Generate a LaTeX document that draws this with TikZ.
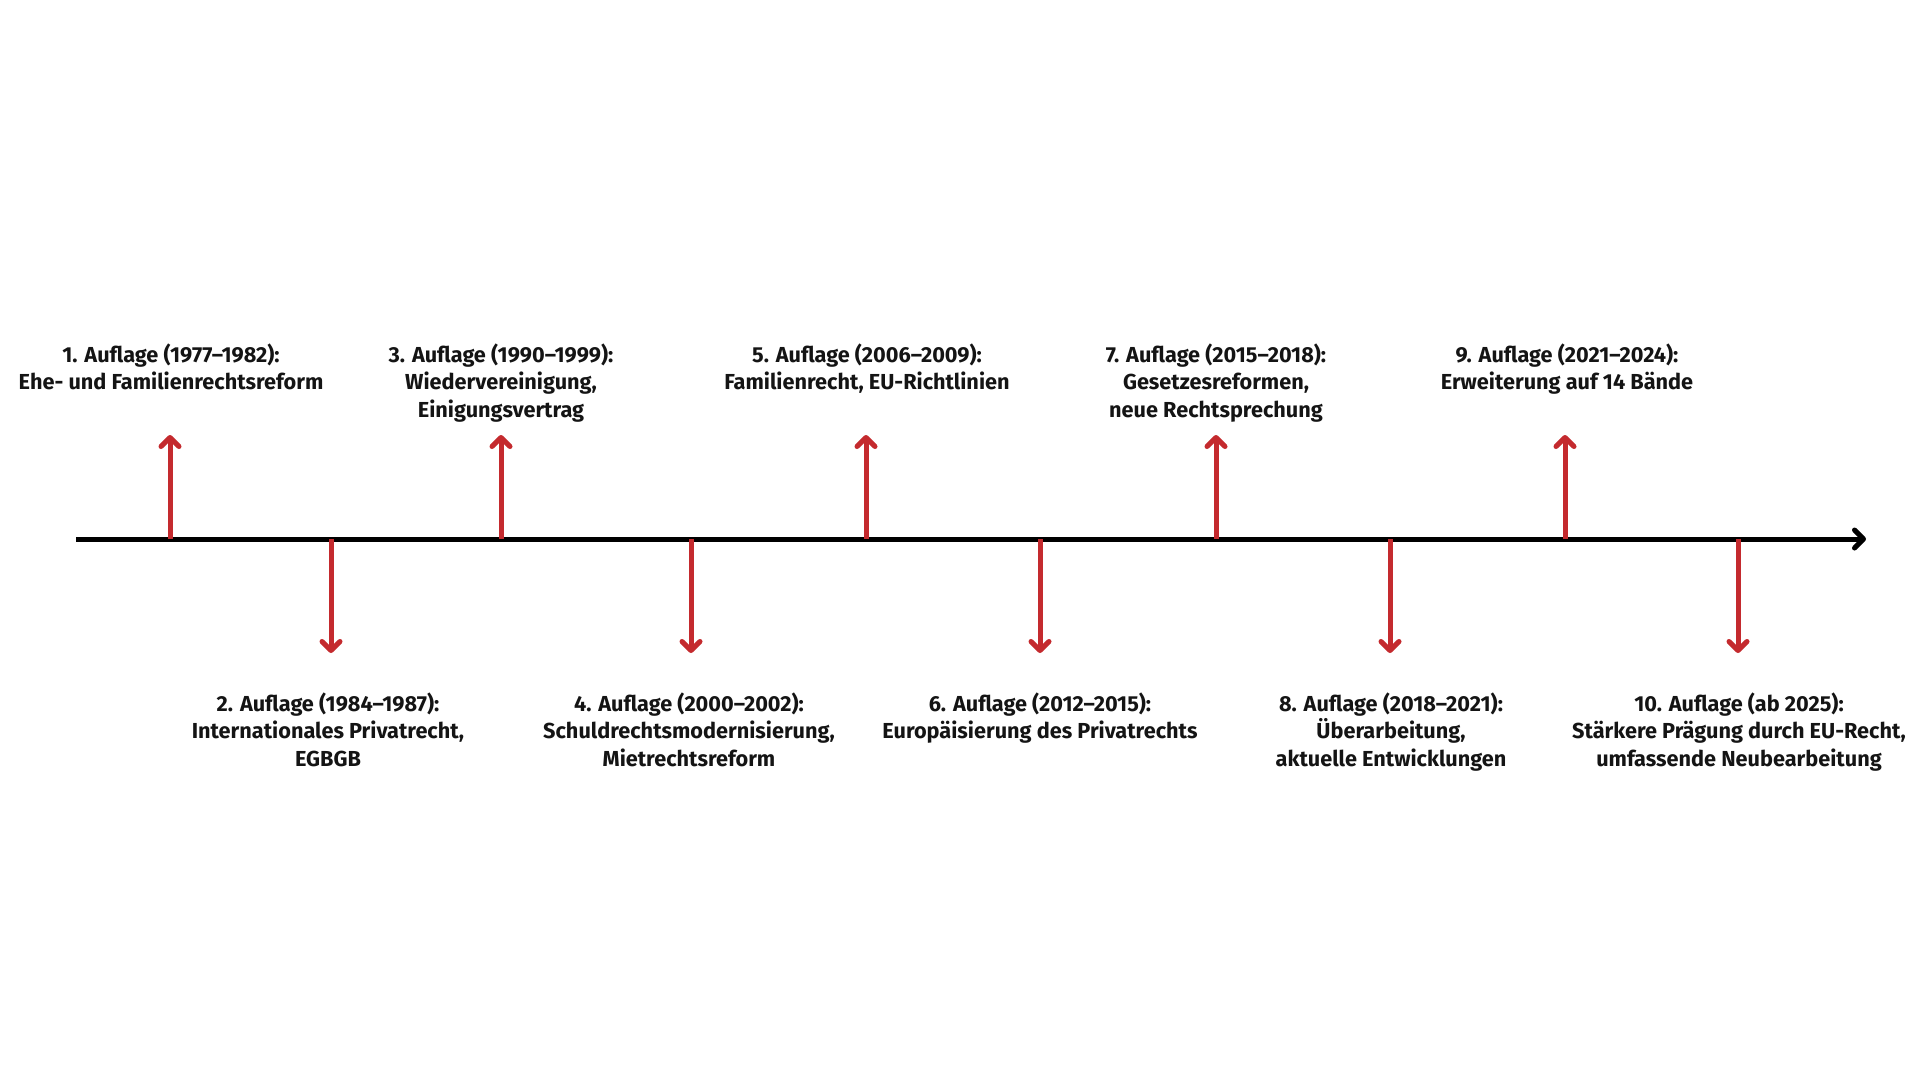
\documentclass[tikz,border=0pt]{standalone}
\usepackage{fontspec}
\setmainfont{Fira Sans}
\usetikzlibrary{arrows.meta}
\definecolor{tlred}{RGB}{196,42,46}
\definecolor{tltext}{RGB}{20,20,20}
\tikzset{
  axisline/.style={line width=5pt, draw=black, -{Straight Barb[length=9pt,width=18pt,round]}},
  evarrow/.style={line width=5pt, draw=tlred, -{Straight Barb[length=9pt,width=18pt,round]}},
  evlabel/.style={font=\fontsize{21.7}{27.6}\selectfont\bfseries, text=tltext, align=center, inner sep=0pt, anchor=north}
}
\begin{document}
\begin{tikzpicture}[x=1pt,y=-1pt]
\useasboundingbox[fill=white] (0,0) rectangle (1920,1080);
\coordinate (s) at (76,539);
\coordinate (e) at (1866,539);
\draw[axisline] (s) -- (e);
% axis points and tips
\foreach \i/\x/\ty in {1/170/435,2/331/653,3/501/435,4/691/653,5/866/435,6/1040/653,7/1216/435,8/1390/653,9/1565/435,10/1738/653}{
  \coordinate (a\i) at (\x,539);
  \coordinate (t\i) at (\x,\ty);
  \draw[evarrow] (a\i) -- (t\i);
}
\node[evlabel] (l1) at (171,343.5) {1. Auflage (1977–1982):\\Ehe- und Familienrechtsreform};
\node[evlabel] (l3) at (501,343.5) {3. Auflage (1990–1999):\\Wiedervereinigung,\\Einigungsvertrag};
\node[evlabel] (l5) at (867,343.5) {5. Auflage (2006–2009):\\Familienrecht, EU-Richtlinien};
\node[evlabel] (l7) at (1216,343.5) {7. Auflage (2015–2018):\\Gesetzesreformen,\\neue Rechtsprechung};
\node[evlabel] (l9) at (1567,343.5) {9. Auflage (2021–2024):\\Erweiterung auf 14 Bände};
\node[evlabel] (l2) at (328,692.5) {2. Auflage (1984–1987):\\Internationales Privatrecht,\\EGBGB};
\node[evlabel] (l4) at (689,692.5) {4. Auflage (2000–2002):\\Schuldrechtsmodernisierung,\\Mietrechtsreform};
\node[evlabel] (l6) at (1040,692.5) {6. Auflage (2012–2015):\\Europäisierung des Privatrechts};
\node[evlabel] (l8) at (1391,692.5) {8. Auflage (2018–2021):\\Überarbeitung,\\aktuelle Entwicklungen};
\node[evlabel] (l10) at (1739,692.5) {10. Auflage (ab 2025):\\Stärkere Prägung durch EU-Recht,\\umfassende Neubearbeitung};
\end{tikzpicture}
\end{document}
